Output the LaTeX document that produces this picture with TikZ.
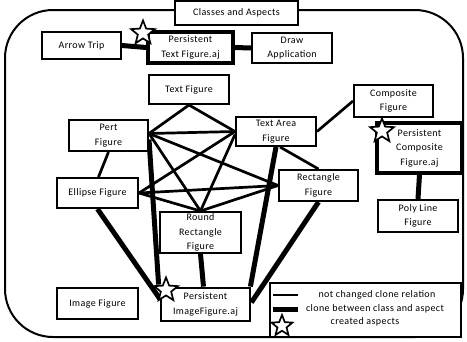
\documentclass[tikz,border=0pt]{standalone}
\usepackage{fontspec}
\setmainfont{Carlito}[LetterSpace=4]
\usetikzlibrary{shapes.geometric,backgrounds}
\begin{document}
\begin{tikzpicture}[x=1pt,y=-1pt,
  box/.style={draw, line width=2pt, fill=white, align=center, inner sep=1pt,
    font=\fontsize{10}{14.5}\selectfont},
  pbox/.style={box, line width=3.5pt},
  thinlink/.style={line width=2.7pt},
  thicklink/.style={line width=5pt},
  astar/.style={star, star points=5, star point ratio=2.3, draw, fill=white,
    line width=1.7pt, minimum size=25pt, inner sep=0pt},
  lbl/.style={font=\fontsize{10}{12}\selectfont, inner sep=0pt}]
\useasboundingbox (0,0) rectangle (467,341);
% nodes
\node[box, minimum width=79pt, minimum height=27pt] (arrowtrip) at (81.5,45.5) {Arrow Trip};
\node[pbox, minimum width=85pt, minimum height=31pt] (ptext) at (190.5,47.5) {Persistent\\Text Figure.aj};
\node[box, minimum width=80pt, minimum height=30pt] (drawapp) at (292,48) {Draw\\Application};
\node[box, minimum width=80pt, minimum height=29pt] (textfig) at (189,89.5) {Text Figure};
\node[box, minimum width=79pt, minimum height=31pt] (pert) at (108.5,135.5) {Pert\\Figure};
\node[box, minimum width=81pt, minimum height=30pt] (ellipse) at (97.5,193) {Ellipse Figure};
\node[box, minimum width=81pt, minimum height=41pt] (roundrect) at (200.5,232.5) {Round\\Rectangle\\Figure};
\node[box, minimum width=80pt, minimum height=29pt] (textarea) at (276,131.5) {Text Area\\Figure};
\node[box, minimum width=79pt, minimum height=31pt] (rectfig) at (318.5,185.5) {Rectangle\\Figure};
\node[box, minimum width=79pt, minimum height=32pt] (composite) at (393.5,101) {Composite\\Figure};
\node[pbox, minimum width=85pt, minimum height=50pt] (pcomp) at (419.5,148) {Persistent\\Composite\\Figure.aj};
\node[box, minimum width=80pt, minimum height=32pt] (polyline) at (418,216) {Poly Line\\Figure};
\node[box, minimum width=81pt, minimum height=31pt] (image) at (97.5,303.5) {Image Figure};
\node[pbox, minimum width=89pt, minimum height=33pt, line width=2.8pt] (pimage) at (205.5,304.5) {Persistent\\ImageFigure.aj};
\begin{scope}[on background layer]
% outer frame
\draw[line width=2pt, rounded corners=48pt] (5,10) rectangle (463,337);
% thin links
\draw[thinlink] (textfig.south) -- ([yshift=2pt]pert.east);
\draw[thinlink] (textfig.south) -- (textarea.west);
\draw[thinlink] ([yshift=2pt]pert.east) -- (textarea.west);
\draw[thinlink] ([yshift=2pt]pert.east) -- (roundrect.north);
\draw[thinlink] ([yshift=2pt]pert.east) -- (rectfig.west);
\draw[thinlink] (ellipse.east) -- (textarea.west);
\draw[thinlink] (ellipse.east) -- (rectfig.west);
\draw[thinlink] (ellipse.east) -- (roundrect.north);
\draw[thinlink] ([yshift=-3pt]textarea.west) -- (roundrect.north);
\draw[thinlink] (roundrect.north) -- (rectfig.west);
\draw[thinlink] ([xshift=4pt]textarea.south) -- (rectfig.north);
\draw[thinlink] (pert.south) -- ([xshift=1pt]ellipse.north);
\draw[thinlink] (textarea.east) -- (composite.west);
% thick links
\draw[thicklink] (arrowtrip.east) -- (ptext.west);
\draw[thicklink] (ptext.east) -- (drawapp.west);
\draw[thicklink] ([yshift=-4pt]pert.east) -- ([xshift=-1pt,yshift=2pt]pimage.north west);
\draw[thicklink] (ellipse.south) -- ([yshift=6pt]pimage.west);
\draw[thicklink] (roundrect.south) -- ([xshift=-2pt]pimage.north);
\draw[thicklink] (textarea.south) -- ([xshift=-1pt]pimage.north east);
\draw[thicklink] (rectfig.south) -- ([yshift=2pt]pimage.east);
\draw[thicklink] (pcomp.south) -- (polyline.north);
\end{scope}
\node[box, minimum width=123pt, minimum height=24pt] (title) at (236.5,13) {Classes and Aspects};
% stars
\node[astar] (s1) at (143,33) {};
\node[astar] (s2) at (382,131) {};
\node[astar] (s3) at (166,290) {};
% legend
\node[box, minimum width=191pt, minimum height=54pt] (legend) at (365.5,310) {};
\coordinate (la1) at (273,295);
\coordinate (la2) at (298,295);
\coordinate (lb1) at (273,309);
\coordinate (lb2) at (298,309);
\draw[thinlink] (la1) -- (la2);
\draw[thicklink] (lb1) -- (lb2);
\node[lbl] (l1) at (377,295) {not changed clone relation};
\node[lbl] (l2) at (375,309) {clone between class and aspect};
\node[astar, minimum size=22pt] (s4) at (282,326) {};
\node[lbl] (l3) at (365,322) {created aspects};
\end{tikzpicture}
\end{document}
